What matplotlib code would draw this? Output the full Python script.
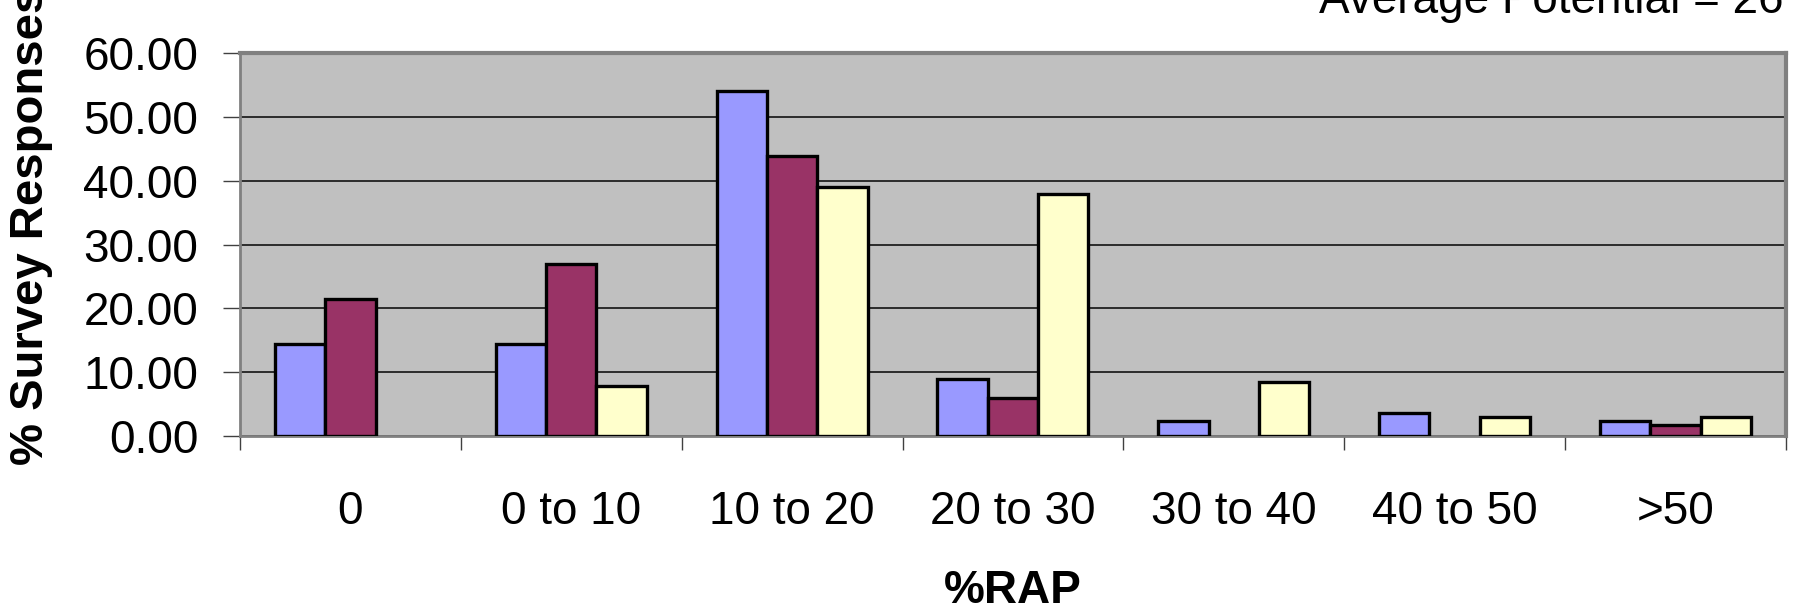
import matplotlib
matplotlib.use('Agg')
import matplotlib.pyplot as plt
import numpy as np

plt.rcParams['font.family'] = ['Liberation Sans', 'DejaVu Sans']

categories = ['0', '0 to 10', '10 to 20', '20 to 30', '30 to 40', '40 to 50', '>50']
series_a = [14.4, 14.4, 54.0, 9.0, 2.4, 3.6, 2.4]
series_b = [21.5, 27.0, 43.8, 6.0, np.nan, np.nan, 1.8]
series_c = [np.nan, 7.8, 39.0, 37.9, 8.5, 3.0, 3.0]
colors = ['#9999FF', '#993366', '#FFFFCC']

fig = plt.figure(figsize=(18, 6.13), dpi=100)
ax = fig.add_axes([0.1333, 0.2887, 0.8589, 0.6248])
ax.set_facecolor('#C0C0C0')

x = np.arange(len(categories))
w = 0.228
for i, ys in enumerate([series_a, series_b, series_c]):
    ax.bar(x + (i - 1) * w, ys, w, color=colors[i], edgecolor='black',
           linewidth=2.4, zorder=3)

ax.set_xlim(-0.5, len(categories) - 0.5)
ax.set_ylim(0, 60)
ax.set_yticks(np.arange(0, 61, 10))
ax.set_yticklabels(['%.2f' % v for v in np.arange(0, 61, 10)], fontsize=33)
ax.yaxis.grid(True, color='#202020', linewidth=1.3, zorder=1)
ax.set_axisbelow(True)

ax.set_xticks(np.arange(-0.5, len(categories), 1))
ax.set_xticklabels([])
ax.set_xticks(x, minor=True)
ax.set_xticklabels(categories, minor=True, fontsize=33)
ax.tick_params(axis='x', which='major', length=10, width=1, color='#404040', direction='out')
ax.tick_params(axis='x', which='minor', length=0, pad=39)
ax.tick_params(axis='y', length=12, width=1, color='#404040', pad=18)

for side in ['top', 'right']:
    ax.spines[side].set_color('#808080')
    ax.spines[side].set_linewidth(3)
ax.spines['left'].set_color('#808080')
ax.spines['left'].set_linewidth(2)
ax.spines['bottom'].set_color('#808080')
ax.spines['bottom'].set_linewidth(2)

fig.text(0.5628, 1 - 591 / 613, '%RAP', fontsize=33, fontweight='bold', ha='center', va='center')
fig.text(0.0172, 0.242, '% Survey Responses', fontsize=34, fontweight='bold',
         rotation=90, ha='center', va='bottom')
fig.text(0.991, 1 - 13 / 613, 'Average Potential = 26', fontsize=33,
         ha='right', va='baseline')

fig.savefig('out.png', dpi=100)
